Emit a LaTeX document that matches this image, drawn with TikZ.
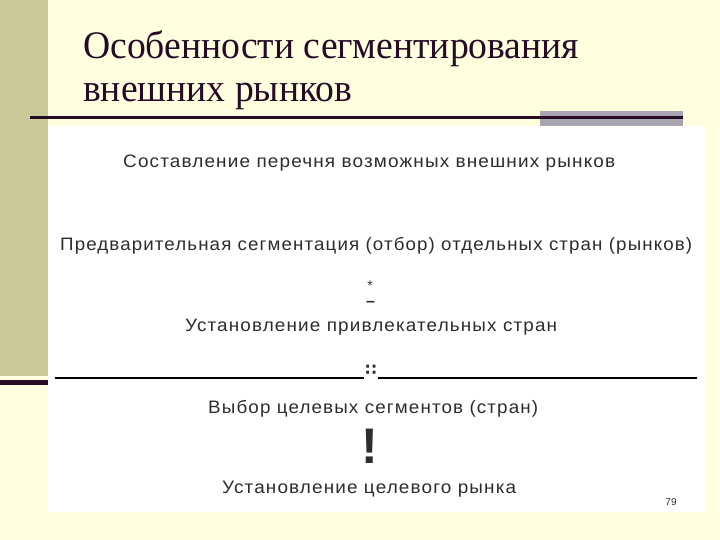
\documentclass[tikz,border=0pt]{standalone}
\usepackage{fontspec}
\usepackage{graphicx}
\setmainfont{Liberation Serif}
\newfontfamily\bodyfont[LetterSpace=6]{Liberation Sans}
\newfontfamily\markfont{Liberation Sans}
\newfontfamily\symfont{DejaVu Sans}
\definecolor{bgyellow}{RGB}{255,255,224}
\definecolor{olive}{RGB}{201,201,153}
\definecolor{titlecol}{RGB}{38,10,38}
\definecolor{grayblock}{RGB}{168,164,178}
\definecolor{bodycol}{RGB}{45,45,45}
\newcommand\fitw[2]{\resizebox{#1}{\height}{#2}}
\tikzset{
  titletext/.style={anchor=base west, inner sep=0pt, text=titlecol, font=\fontsize{39}{39}\selectfont},
  bodytext/.style={anchor=base west, inner sep=0pt, text=bodycol, font=\bodyfont\fontsize{18}{18}\selectfont},
  marktext/.style={anchor=base, inner sep=0pt, text=bodycol},
  rule/.style={line width=2.5pt, black}
}
\begin{document}
\begin{tikzpicture}[x=1pt,y=-1pt]
\useasboundingbox (0,0) rectangle (720,540);
% background
\fill[bgyellow] (0,0) rectangle (720,540);
\fill[olive] (0,0) rectangle (48,376);
\fill[titlecol] (0,380) rectangle (48,385);
% white picture area
\fill[white] (48,126) rectangle (705,512);
% title
\node[titletext] (t1) at (83,59) {\fitw{496pt}{Особенности сегментирования}};
\node[titletext] (t2) at (83,102) {\fitw{269pt}{внешних рынков}};
\fill[grayblock] (540,111) rectangle (683,126);
\draw[titlecol, line width=2.2pt] (30,117.5) -- (683,117.5);
% body lines
\node[bodytext] (l1) at (123,168) {\fitw{492pt}{Составление перечня возможных внешних рынков}};
\node[bodytext] (l2) at (60,250) {\fitw{632pt}{Предварительная сегментация (отбор) отдельных стран (рынков)}};
\node[marktext, font=\markfont\fontsize{14}{14}\selectfont] (star) at (370,290) {*};
\node[marktext, font=\markfont\bfseries\fontsize{16}{16}\selectfont] (dash) at (370.5,306) {–};
\node[bodytext] (l3) at (185,331) {\fitw{372pt}{Установление привлекательных стран}};
\node[marktext, font=\symfont\bfseries\fontsize{16}{16}\selectfont] (colons) at (371,375) {∷};
\coordinate (la) at (55,378);
\coordinate (lb) at (364,378);
\coordinate (lc) at (378,378);
\coordinate (ld) at (697,378);
\draw[rule] (la) -- (lb);
\draw[rule] (lc) -- (ld);
\node[bodytext] (l4) at (208,413) {\fitw{330pt}{Выбор целевых сегментов (стран)}};
\node[marktext, font=\markfont\bfseries\fontsize{50}{50}\selectfont] (excl) at (370,463) {!};
\node[bodytext] (l5) at (222,493) {\fitw{294pt}{Установление целевого рынка}};
\node[marktext, font=\markfont\fontsize{10}{10}\selectfont] (pg) at (671,505) {79};
\end{tikzpicture}
\end{document}
